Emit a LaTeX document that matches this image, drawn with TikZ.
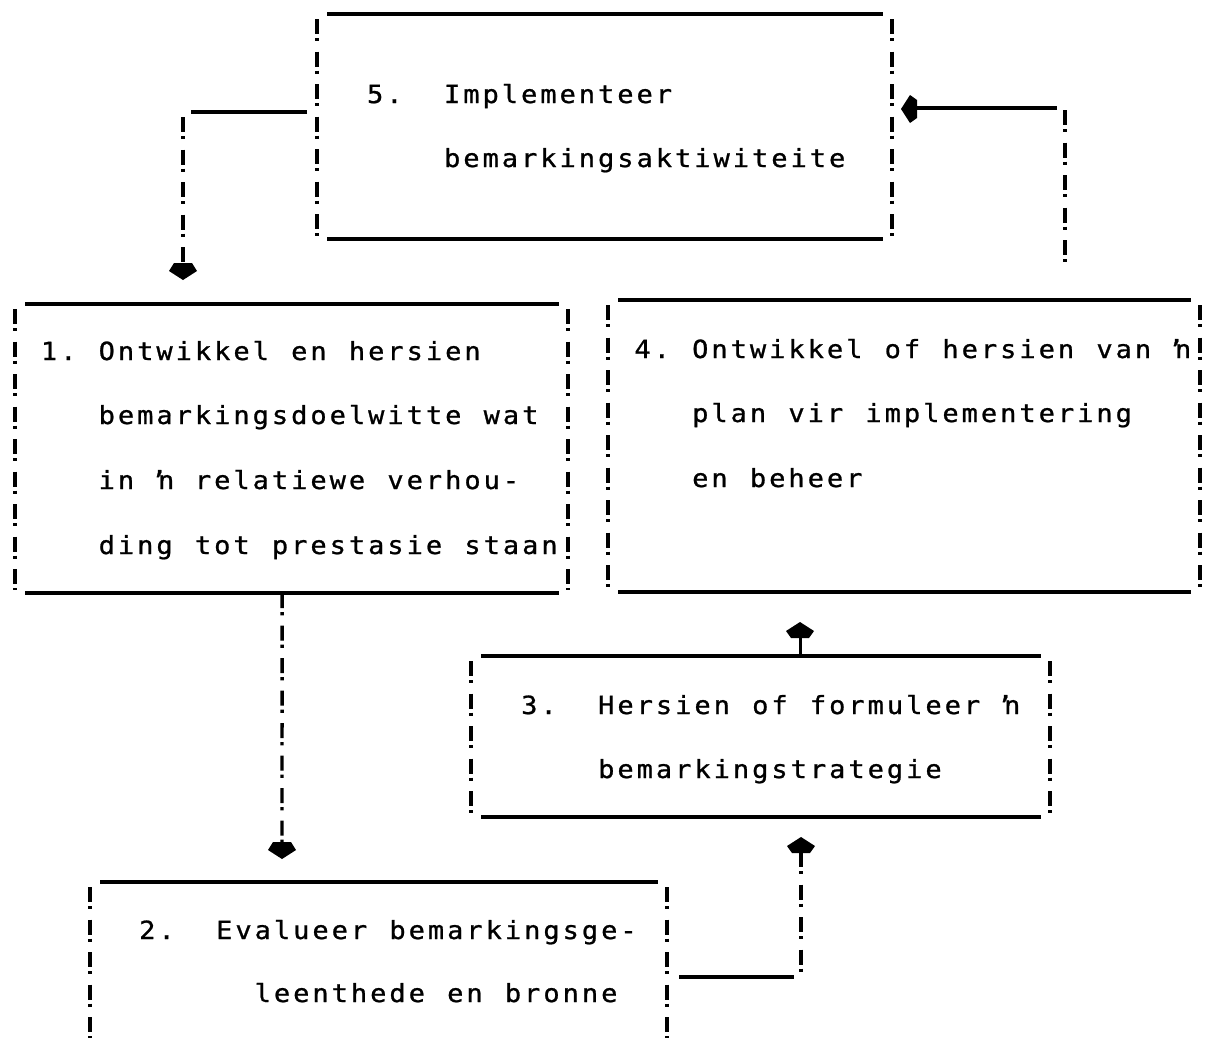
\documentclass[tikz,border=0pt]{standalone}
\usepackage{fontspec}
\newfontfamily\typewheel{DejaVu Sans Mono}[FakeStretch=1.08, FakeBold=0.9]
\usetikzlibrary{calc}

% one typewriter cell per character; "@" marks an empty cell
\newcommand\cellw{19.25pt}
\ExplSyntaxOn
\NewDocumentCommand \typed { m }
  {
    \str_map_inline:nn {#1}
      {
        \hbox_to_wd:nn { \cellw }
          { \hss \str_if_eq:nnF {##1} {@} {##1} \hss }
      }
  }
\ExplSyntaxOff

\tikzset{
  rule/.style={line width=3.3pt},
  bangs/.style={line width=3.4pt, dash pattern=on 15pt off 4pt on 3.4pt off 10.1pt},
  stem/.style={line width=3pt},
  line/.style={anchor=base west, inner sep=0pt, font=\typewheel\fontsize{25}{29}\selectfont},
  headdown/.pic={\fill (0,0) -- (14,-9) -- (9,-17) -- (-9,-17) -- (-14,-9) -- cycle;},
  headup/.pic={\fill (0,0) -- (14,9) -- (9,16) -- (-9,16) -- (-14,9) -- cycle;},
  headleft/.pic={\fill (0,0) -- (9,-14) -- (16,-9) -- (16,9) -- (9,14) -- cycle;},
}

% typed frame: solid rules top and bottom, columns of "!" at the sides
% #1 name, #2 left x, #3 right x, #4 top y, #5 bottom y
\newcommand\typedframe[5]{%
  \coordinate (#1-nw) at (#2,#4);
  \coordinate (#1-ne) at (#3,#4);
  \coordinate (#1-sw) at (#2,#5);
  \coordinate (#1-se) at (#3,#5);
  \draw[rule] ($(#1-nw)+(10,0)$) -- ($(#1-ne)+(-9,0)$);
  \draw[rule] ($(#1-sw)+(10,0)$) -- ($(#1-se)+(-9,0)$);
  \draw[bangs] ($(#1-nw)+(0,5)$) -- ($(#1-sw)+(0,-3)$);
  \draw[bangs] ($(#1-ne)+(0,5)$) -- ($(#1-se)+(0,-3)$);
}

\begin{document}
\begin{tikzpicture}[x=1pt,y=-1pt]
\useasboundingbox[fill=white] (0,0) rectangle (1207,1037);

% frames
\typedframe{b5}{317}{892}{14}{239}
\typedframe{b1}{15}{568}{304}{593}
\typedframe{b4}{608}{1200}{300}{592}
\typedframe{b3}{471}{1050}{656}{817}
\typedframe{b2}{90}{667}{882}{1060}

% step 5
\node[line] (t5a) at (365.4,103) {\typed{5.@@Implementeer}};
\node[line] (t5b) at (442.4,167) {\typed{bemarkingsaktiwiteite}};

% step 1
\node[line] (t1a) at (39.25,360) {\typed{1. Ontwikkel en hersien}};
\node[line] (t1b) at (97,424) {\typed{bemarkingsdoelwitte wat}};
\node[line] (t1c) at (97,489) {\typed{in ŉ relatiewe verhou-}};
\node[line] (t1d) at (97,554) {\typed{ding tot prestasie staan}};

% step 4
\node[line] (t4a) at (632.75,358) {\typed{4. Ontwikkel of hersien van ŉ}};
\node[line] (t4b) at (690.5,422) {\typed{plan vir implementering}};
\node[line] (t4c) at (690.5,487) {\typed{en beheer}};

% step 3
\node[line] (t3a) at (519.5,714) {\typed{3.@@Hersien of formuleer ŉ}};
\node[line] (t3b) at (596.5,778) {\typed{bemarkingstrategie}};

% step 2
\node[line] (t2a) at (137.5,939) {\typed{2.@@Evalueer bemarkingsge-}};
\node[line] (t2b) at (253,1002) {\typed{leenthede en bronne}};

% 5 -> 1
\coordinate (a1) at ($(b5-nw)+(-10,98)$);
\coordinate (a2) at (191,112);
\coordinate (a3) at (183,117);
\coordinate (a4) at (183,262);
\coordinate (a5) at (183,280);
\draw[rule] (a1) -- (a2);
\draw[bangs] (a3) -- (a4);
\pic at (a5) {headdown};

% 1 -> 2
\coordinate (d1) at ($(b1-sw)!0.483!(b1-se)$);
\coordinate (d2) at (282,843);
\coordinate (d3) at (282,859);
\draw[bangs] (d1) -- (d2);
\pic at (d3) {headdown};

% 2 -> 3
\coordinate (e1) at (679,977);
\coordinate (e2) at (794,977);
\coordinate (e3) at (801,852);
\coordinate (e4) at (801,972);
\coordinate (e5) at (801,837);
\draw[rule] (e1) -- (e2);
\draw[bangs] (e3) -- (e4);
\pic at (e5) {headup};

% 3 -> 4
\coordinate (f1) at (800,656);
\coordinate (f2) at (800,636);
\coordinate (f3) at (800,622);
\draw[stem] (f1) -- (f2);
\pic at (f3) {headup};

% 4 -> 5
\coordinate (g1) at (1065,110);
\coordinate (g2) at (1065,262);
\coordinate (g3) at (1057,108);
\coordinate (g4) at (914,108);
\coordinate (g5) at ($(b5-ne)+(9,95)$);
\draw[bangs] (g1) -- (g2);
\draw[rule] (g3) -- (g4);
\pic at (g5) {headleft};
\end{tikzpicture}
\end{document}
